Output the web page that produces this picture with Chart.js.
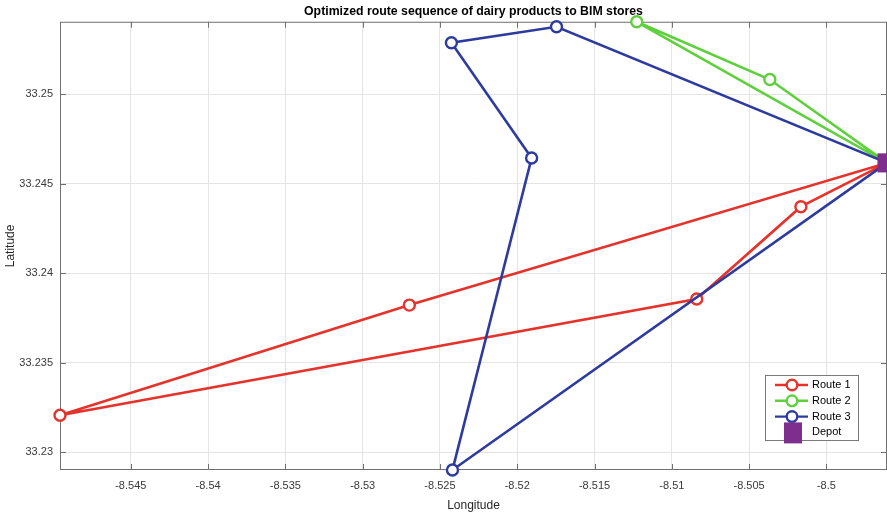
<!DOCTYPE html>
<html>
<head>
<meta charset="utf-8">
<script src="https://cdn.jsdelivr.net/npm/chart.js@4.4.0/dist/chart.umd.min.js"></script>
<style>
  html, body { margin: 0; padding: 0; background: #fff; }
  canvas { display: block; }
</style>
</head>
<body>
<canvas id="myChart" width="887" height="515"></canvas>
<script>
// Depot location (start and end of every route)
var depotLon = [-8.49608];
var depotLat = [33.24617];
// Stores visited by each route, in visiting order
var route1Lon = [-8.50165, -8.50839, -8.54958, -8.52698];
var route1Lat = [33.24372, 33.23856, 33.23206, 33.23822];
var route2Lon = [-8.50366, -8.51227];
var route2Lat = [33.25083, 33.25406];
var route3Lon = [-8.51746, -8.52426, -8.51907, -8.52419];
var route3Lat = [33.25378, 33.25289, 33.24644, 33.22900];
// Tick labels on the axes
var lonTicks = [-8.545, -8.54, -8.535, -8.53, -8.525, -8.52, -8.515, -8.51, -8.505, -8.5];
var latTicks = [33.23, 33.235, 33.24, 33.245, 33.25];

var routeColors = ['#e5322b', '#5dd03c', '#2e3b9e'];
var depotColor = '#7e2f8e';

function routePoints(lons, lats) {
  var pts = [{ x: depotLon[0], y: depotLat[0] }];
  for (var i = 0; i < lons.length; i++) {
    pts.push({ x: lons[i], y: lats[i] });
  }
  pts.push({ x: depotLon[0], y: depotLat[0] });
  return pts;
}

// axis limits fit tight around the data
var allLon = depotLon.concat(route1Lon, route2Lon, route3Lon);
var allLat = depotLat.concat(route1Lat, route2Lat, route3Lat);

function routeDataset(label, lons, lats, color, order) {
  return {
    label: label,
    data: routePoints(lons, lats),
    showLine: true,
    borderColor: color,
    borderWidth: 2.6,
    pointRadius: 5.5,
    pointBorderWidth: 2.4,
    pointBackgroundColor: '#ffffff',
    pointBorderColor: color,
    pointStyle: 'circle',
    clip: false,
    order: order
  };
}

// centre the title over the plot area rather than the whole canvas
var titleOverPlot = {
  id: 'titleOverPlot',
  afterLayout: function (chart) {
    var t = chart.titleBlock;
    if (t) {
      t.left = chart.chartArea.left;
      t.right = chart.chartArea.right;
    }
  }
};

// box around the plot with inward tick marks
var axesBox = {
  id: 'axesBox',
  beforeDatasetsDraw: function (chart) {
    var ctx = chart.ctx, a = chart.chartArea;
    var xs = chart.scales.x, ys = chart.scales.y;
    ctx.save();
    ctx.strokeStyle = '#707070';
    ctx.lineWidth = 1;
    ctx.strokeRect(a.left + 0.5, a.top + 0.5, a.right - a.left - 1, a.bottom - a.top - 1);
    ctx.beginPath();
    lonTicks.forEach(function (v) {
      var px = Math.round(xs.getPixelForValue(v)) + 0.5;
      ctx.moveTo(px, a.bottom); ctx.lineTo(px, a.bottom - 6);
      ctx.moveTo(px, a.top); ctx.lineTo(px, a.top + 6);
    });
    latTicks.forEach(function (v) {
      var py = Math.round(ys.getPixelForValue(v)) + 0.5;
      ctx.moveTo(a.left, py); ctx.lineTo(a.left + 6, py);
      ctx.moveTo(a.right, py); ctx.lineTo(a.right - 6, py);
    });
    ctx.stroke();
    ctx.restore();
  }
};

// legend box in the lower right corner of the plot
var boxLegend = {
  id: 'boxLegend',
  afterDraw: function (chart) {
    var ctx = chart.ctx;
    var x0 = 765, y0 = 375, w = 93, h = 65;
    ctx.save();
    ctx.fillStyle = '#ffffff';
    ctx.fillRect(x0, y0, w, h);
    ctx.strokeStyle = '#7a7a7a';
    ctx.lineWidth = 1;
    ctx.strokeRect(x0 + 0.5, y0 + 0.5, w, h);
    ctx.font = '11px "Liberation Sans", Arial, sans-serif';
    ctx.textBaseline = 'middle';
    chart.data.datasets.forEach(function (ds, i) {
      var y = 385 + i * 15.8;
      if (ds.pointStyle === 'rect') {
        ctx.fillStyle = ds.pointBackgroundColor;
        ctx.fillRect(784, y - 10, 18, 21);
      } else {
        ctx.strokeStyle = ds.borderColor;
        ctx.lineWidth = 2.4;
        ctx.beginPath();
        ctx.moveTo(775, y); ctx.lineTo(808, y);
        ctx.stroke();
        ctx.beginPath();
        ctx.arc(792, y, 5.3, 0, Math.PI * 2);
        ctx.fillStyle = '#ffffff';
        ctx.fill();
        ctx.stroke();
      }
      ctx.fillStyle = '#000000';
      ctx.fillText(ds.label, 812, y);
    });
    ctx.restore();
  }
};

Chart.defaults.font.family = '"Liberation Sans", Arial, sans-serif';

var ctx = document.getElementById('myChart');
var myChart = new Chart(ctx, {
  type: 'scatter',
  data: {
    datasets: [
      routeDataset('Route 1', route1Lon, route1Lat, routeColors[0], 3),
      routeDataset('Route 2', route2Lon, route2Lat, routeColors[1], 2),
      routeDataset('Route 3', route3Lon, route3Lat, routeColors[2], 1),
      {
        label: 'Depot',
        data: [{ x: depotLon[0], y: depotLat[0] }],
        pointStyle: 'rect',
        pointRadius: 13.5,
        pointBackgroundColor: depotColor,
        pointBorderColor: depotColor,
        pointBorderWidth: 0,
        clip: false,
        order: 0
      }
    ]
  },
  options: {
    responsive: false,
    animation: false,
    devicePixelRatio: 1,
    layout: { padding: 0, autoPadding: false },
    plugins: {
      legend: { display: false },
      tooltip: { enabled: false },
      title: {
        display: true,
        text: 'Optimized route sequence of dairy products to BIM stores',
        color: '#000000',
        font: { size: 12.3, weight: 'bold' },
        padding: { top: 4, bottom: 3 }
      }
    },
    scales: {
      x: {
        type: 'linear',
        min: Math.min.apply(null, allLon),
        max: Math.max.apply(null, allLon),
        afterBuildTicks: function (s) { s.ticks = lonTicks.map(function (v) { return { value: v }; }); },
        afterFit: function (s) { s.height = 45; },
        ticks: {
          color: '#3a3a3a',
          font: { size: 11 },
          padding: 9,
          maxRotation: 0,
          autoSkip: false,
          callback: function (v) { return String(v); }
        },
        grid: { color: '#e4e4e4', drawTicks: false },
        border: { display: false },
        title: {
          display: true,
          text: 'Longitude',
          color: '#262626',
          font: { size: 12 },
          padding: { top: 0, bottom: 2 }
        }
      },
      y: {
        type: 'linear',
        min: Math.min.apply(null, allLat),
        max: Math.max.apply(null, allLat),
        afterBuildTicks: function (s) { s.ticks = latTicks.map(function (v) { return { value: v }; }); },
        afterFit: function (s) { s.width = 60; },
        ticks: {
          color: '#3a3a3a',
          font: { size: 11 },
          padding: 7,
          autoSkip: false,
          callback: function (v) { return String(v); }
        },
        grid: { color: '#e4e4e4', drawTicks: false },
        border: { display: false },
        title: {
          display: true,
          text: 'Latitude',
          color: '#262626',
          font: { size: 12 },
          padding: { top: 3, bottom: 0 }
        }
      }
    }
  },
  plugins: [titleOverPlot, axesBox, boxLegend]
});
</script>
</body>
</html>
